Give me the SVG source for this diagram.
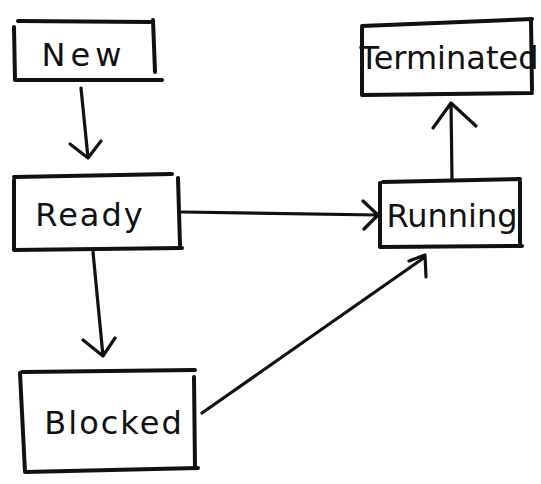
<svg xmlns="http://www.w3.org/2000/svg" width="541" height="484" viewBox="0 0 541 484">
  <style>
    .box { fill: none; stroke: #111; stroke-width: 4; stroke-linecap: round; stroke-linejoin: round; }
    .edge { fill: none; stroke: #111; stroke-width: 3.2; stroke-linecap: round; stroke-linejoin: round; }
    .label { font-family: "DejaVu Sans", "Liberation Sans", sans-serif; font-size: 32px; fill: #111; text-anchor: middle; }
  </style>
  <rect width="541" height="484" fill="#fff"/>

  <g id="node-new">
    <path class="box" d="M14 27 L15 80 L162 80 M18 21 L150 22 M153 20 L155 72"/>
    <text class="label" x="84" y="66" letter-spacing="5">New</text>
  </g>

  <g id="node-ready">
    <path class="box" d="M14 180 L14 250 L182 248 M14 177 L172 174 M178 178 L180 245"/>
    <text class="label" x="90" y="226" letter-spacing="2">Ready</text>
  </g>

  <g id="node-blocked">
    <path class="box" d="M20 373 L25 472 L198 468 M22 372 L195 370 M194 377 L195 468"/>
    <text class="label" x="114" y="434" letter-spacing="2">Blocked</text>
  </g>

  <g id="node-running">
    <path class="box" d="M380 183 L380 247 L522 246 M383 182 L520 179 M520 182 L520 243"/>
    <text class="label" x="452" y="227" font-size="27">Running</text>
  </g>

  <g id="node-terminated">
    <path class="box" d="M362 28 L362 95 L532 93 M362 26 L532 19 M531 20 L532 90"/>
    <text class="label" x="449" y="69" font-size="24">Terminated</text>
  </g>

  <g id="connectors">
    <!-- New to Ready -->
    <path class="edge" d="M81 88 L88 158 M70 144 L88 158 L101 141"/>
    <!-- Ready to Blocked -->
    <path class="edge" d="M93 252 L103 356 M83 340 L103 356 L115 338"/>
    <!-- Ready to Running -->
    <path class="edge" d="M182 212 L378 215 M363 201 L378 215 L364 229"/>
    <!-- Running to Terminated -->
    <path class="edge" d="M452 180 L451 103 M433 128 L451 103 L476 126"/>
    <!-- Blocked to Running -->
    <path class="edge" d="M202 413 L425 257 M409 261 L425 255 L426 277"/>
  </g>
</svg>
